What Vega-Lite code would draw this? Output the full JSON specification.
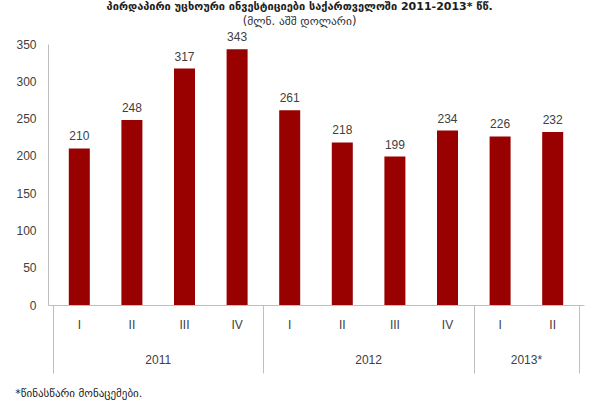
{
  "$schema": "https://vega.github.io/schema/vega-lite/v6.json",
  "width": 536,
  "height": 261,
  "autosize": {"type": "none"},
  "padding": {"left": 48, "top": 44, "right": 16, "bottom": 95},
  "background": "white",
  "config": {
    "view": {"stroke": null},
    "font": "Liberation Sans, Arial, DejaVu Sans",
    "text": {"font": "Liberation Sans, Arial, DejaVu Sans", "fontSize": 12, "color": "#404040"},
    "axisY": {"labelOverlap": false, "labelFlush": false}
  },
  "title": {
    "text": "პირდაპირი უცხოური ინვესტიციები საქართველოში  2011-2013* წწ.",
    "subtitle": "(მლნ. აშშ დოლარი)",
    "anchor": "middle",
    "frame": "bounds",
    "font": "DejaVu Sans, Liberation Sans",
    "fontSize": 11,
    "fontWeight": "bold",
    "color": "#202020",
    "subtitleFont": "DejaVu Sans, Liberation Sans",
    "subtitleFontSize": 11.5,
    "subtitleColor": "#303030",
    "subtitlePadding": 4,
    "offset": 4
  },
  "data": {
    "values": [
      {"idx": 1, "year": "2011", "q": "I", "value": 210},
      {"idx": 2, "year": "2011", "q": "II", "value": 248},
      {"idx": 3, "year": "2011", "q": "III", "value": 317},
      {"idx": 4, "year": "2011", "q": "IV", "value": 343},
      {"idx": 5, "year": "2012", "q": "I", "value": 261},
      {"idx": 6, "year": "2012", "q": "II", "value": 218},
      {"idx": 7, "year": "2012", "q": "III", "value": 199},
      {"idx": 8, "year": "2012", "q": "IV", "value": 234},
      {"idx": 9, "year": "2013*", "q": "I", "value": 226},
      {"idx": 10, "year": "2013*", "q": "II", "value": 232}
    ]
  },
  "encoding": {
    "y": {
      "type": "quantitative",
      "scale": {"domain": [0, 350], "nice": false},
      "axis": {
        "values": [0, 50, 100, 150, 200, 250, 300, 350],
        "tickCount": 8,
        "title": null,
        "grid": false,
        "ticks": false,
        "labelPadding": 12,
        "labelOverlap": false,
        "labelFont": "Liberation Sans, Arial",
        "labelFontSize": 12,
        "labelColor": "#404040",
        "domainColor": "#bfbfbf",
        "domainWidth": 1
      }
    }
  },
  "layer": [
    {
      "mark": {"type": "bar", "size": 21, "color": "#990000"},
      "encoding": {
        "x": {
          "field": "idx", "type": "quantitative",
          "scale": {"domain": [0.5, 10.5], "nice": false, "zero": false},
          "axis": {
            "values": [0.5, 4.5, 8.5, 10.5],
            "tickSize": 68,
            "labels": false,
            "title": null,
            "grid": false,
            "domainColor": "#bfbfbf",
            "tickColor": "#bfbfbf",
            "tickWidth": 1,
            "domainWidth": 1
          }
        },
        "y": {
          "field": "value", "type": "quantitative",
          "scale": {"domain": [0, 350], "nice": false},
          "axis": {
            "values": [0, 50, 100, 150, 200, 250, 300, 350],
            "tickCount": 8,
            "title": null,
            "grid": false,
            "ticks": false,
            "labelPadding": 12,
            "labelOverlap": false,
            "labelFont": "Liberation Sans, Arial",
            "labelFontSize": 12,
            "labelColor": "#404040",
            "domainColor": "#bfbfbf",
            "domainWidth": 1
          }
        }
      }
    },
    {
      "mark": {"type": "text", "baseline": "middle", "dy": -12},
      "encoding": {
        "x": {"field": "idx", "type": "quantitative"},
        "y": {"field": "value", "type": "quantitative"},
        "text": {"field": "value", "type": "quantitative"}
      }
    },
    {
      "mark": {"type": "text", "baseline": "middle", "dy": 20},
      "encoding": {
        "x": {"field": "idx", "type": "quantitative"},
        "y": {"datum": 0, "type": "quantitative"},
        "text": {"field": "q"}
      }
    },
    {
      "transform": [{"aggregate": [{"op": "mean", "field": "idx", "as": "center"}], "groupby": ["year"]}],
      "mark": {"type": "text", "baseline": "middle", "dy": 55},
      "encoding": {
        "x": {"field": "center", "type": "quantitative"},
        "y": {"datum": 0, "type": "quantitative"},
        "text": {"field": "year"}
      }
    },
    {
      "transform": [{"filter": "datum.idx === 1"}],
      "mark": {"type": "text", "baseline": "middle", "align": "left", "dx": -64, "dy": 89, "fontSize": 11, "font": "DejaVu Sans, Liberation Sans", "color": "#202020", "text": "*წინასწარი მონაცემები."},
      "encoding": {
        "x": {"field": "idx", "type": "quantitative"},
        "y": {"datum": 0, "type": "quantitative"}
      }
    }
  ]
}
